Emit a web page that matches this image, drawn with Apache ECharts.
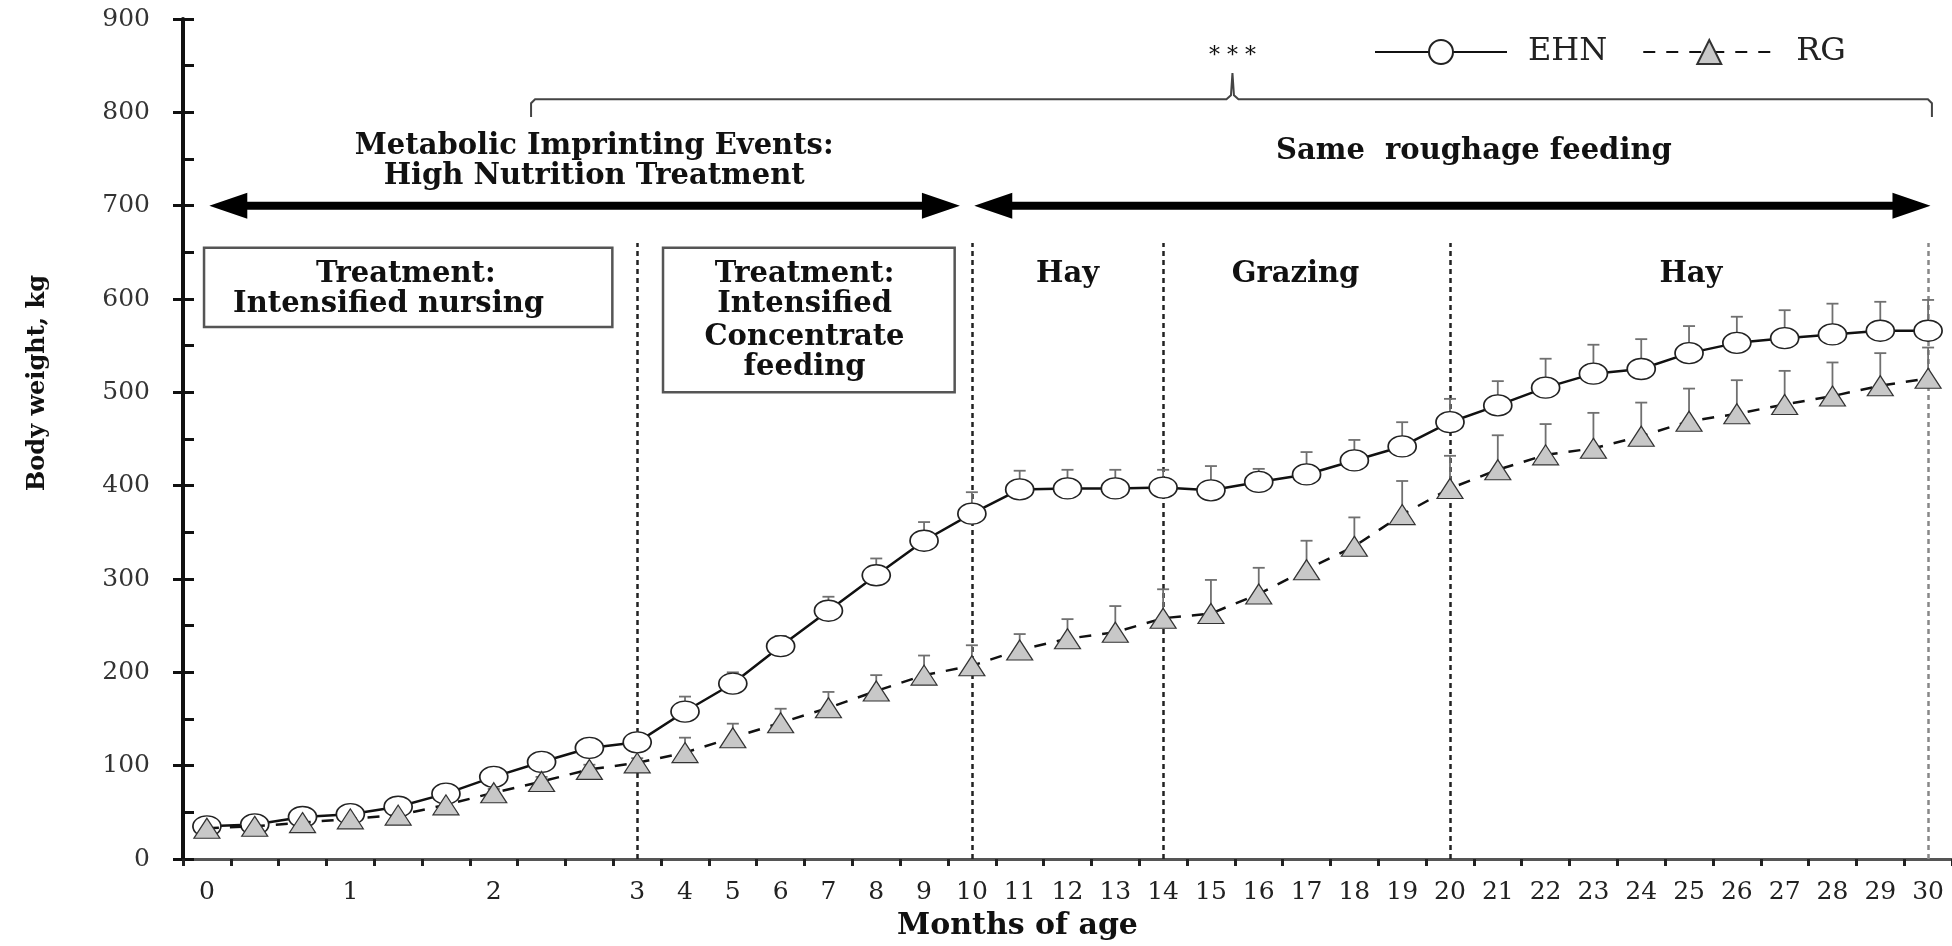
<!DOCTYPE html>
<html>
<head>
<meta charset="utf-8">
<title>Body weight by months of age</title>
<script src="https://cdn.jsdelivr.net/npm/echarts@6/dist/echarts.min.js"></script>
<style>
  html, body { margin: 0; padding: 0; background: #fff; }
  #chart { width: 1952px; height: 946px; }
</style>
</head>
<body>
<div id="chart"></div>
<script>
// age at weighing, months (10-day steps up to month 3, then monthly)
const ages = ['0', '0.33', '0.67', '1', '1.33', '1.67', '2', '2.33', '2.67', '3',
  '4', '5', '6', '7', '8', '9', '10', '11', '12', '13', '14', '15', '16', '17',
  '18', '19', '20', '21', '22', '23', '24', '25', '26', '27', '28', '29', '30'];

// body weight, kg (mean) and SD for each group
const ehnMean = [35, 37, 45, 48, 56, 70, 88, 104, 119, 125,
  158, 188, 228, 266, 304, 341, 370, 396, 397, 397, 398, 395, 404, 412,
  427, 442, 468, 486, 505, 520, 525, 542, 553, 558, 562, 566, 566];
const ehnSd = [2, 2, 3, 3, 3, 4, 4, 5, 5, 5,
  16, 12, 11, 15, 18, 20, 23, 20, 20, 20, 19, 26, 14, 24,
  22, 26, 25, 26, 31, 31, 32, 29, 28, 30, 33, 31, 33];
const rgMean = [33, 35, 39, 43, 47, 58, 71, 83, 96, 103,
  114, 130, 146, 162, 180, 197, 207, 224, 236, 243, 258, 263, 284, 310,
  335, 369, 397, 417, 433, 440, 453, 469, 477, 487, 496, 507, 515];
const rgSd = [2, 2, 2, 3, 3, 4, 4, 5, 5, 5,
  16, 15, 15, 17, 17, 21, 22, 17, 21, 28, 31, 36, 28, 31,
  31, 36, 35, 37, 33, 38, 36, 35, 36, 36, 36, 35, 33];

// months where the feeding period changes (dashed lines)
const phaseBreaks = ['3', '10', '14', '20', '30'];

const serif = '"DejaVu Serif", "Liberation Serif", serif';
const ellipse = 'path://M0,15 A20,15 0 1,1 40,15 A20,15 0 1,1 0,15 Z';

const chart = echarts.init(document.getElementById('chart'));

function barData(mean, sd) {
  return mean.map(function (m, i) { return [i, m, m + sd[i]]; });
}

function renderBar(params, api) {
  const base = api.coord([api.value(0), api.value(1)]);
  const top = api.coord([api.value(0), api.value(2)]);
  const style = { stroke: '#707070', lineWidth: 1.8 };
  return {
    type: 'group',
    children: [
      { type: 'line', shape: { x1: base[0], y1: base[1], x2: top[0], y2: top[1] }, style: style },
      { type: 'line', shape: { x1: top[0] - 6, y1: top[1], x2: top[0] + 6, y2: top[1] }, style: style }
    ]
  };
}

chart.setOption({
  animation: false,
  backgroundColor: '#fff',
  textStyle: { fontFamily: serif },
  grid: { left: 183, right: 0, top: 19, bottom: 84 },
  legend: {
    data: ['EHN', 'RG'],
    left: 1369, top: 31,
    itemWidth: 132, itemHeight: 30, itemGap: 35,
    textStyle: { fontFamily: serif, fontSize: 32, color: '#222', padding: [0, 0, 0, 16] }
  },
  xAxis: {
    type: 'category',
    data: ages,
    boundaryGap: true,
    axisLine: { lineStyle: { color: '#555', width: 3 } },
    axisTick: { show: true, interval: 0, length: 7, lineStyle: { color: '#222', width: 3 } },
    axisLabel: {
      interval: 0, margin: 21, fontFamily: serif, fontSize: 25, color: '#222',
      formatter: function (v) { return v.indexOf('.') < 0 ? v : ''; }
    },
    splitLine: { show: false },
    name: 'Months of age', nameLocation: 'middle', nameGap: 52,
    nameTextStyle: { fontFamily: serif, fontWeight: 'bold', fontSize: 30, color: '#111', padding: [0, 100, 0, 0] }
  },
  yAxis: [{
    type: 'value', min: 0, max: 900, interval: 100,
    axisLine: { show: true, lineStyle: { color: '#111', width: 4 } },
    axisTick: { show: true, length: 10, lineStyle: { color: '#111', width: 3 } },
    axisLabel: { margin: 33, fontFamily: serif, fontSize: 25, color: '#333' },
    splitLine: { show: false },
    name: 'Body weight, kg', nameLocation: 'middle', nameRotate: 90, nameGap: 133,
    nameTextStyle: { fontFamily: serif, fontWeight: 'bold', fontSize: 24, color: '#111', padding: [0, 0, 0, 112] }
  }, {
    type: 'value', min: 0, max: 900, interval: 50, position: 'left',
    axisLine: { show: false },
    axisTick: { show: true, inside: true, length: 11, lineStyle: { color: '#111', width: 3 } },
    axisLabel: { show: false },
    splitLine: { show: false }
  }],
  series: [{
    name: 'EHN sd', type: 'custom', z: 2, silent: true,
    renderItem: renderBar, data: barData(ehnMean, ehnSd)
  }, {
    name: 'RG sd', type: 'custom', z: 2, silent: true,
    renderItem: renderBar, data: barData(rgMean, rgSd)
  }, {
    name: 'EHN', type: 'line', z: 3, data: ehnMean,
    symbol: ellipse, symbolSize: [28, 21],
    lineStyle: { color: '#111', width: 2.5 },
    itemStyle: { color: '#fff', borderColor: '#222', borderWidth: 1.5 },
    markLine: {
      silent: true, z: 1, symbol: ['none', 'none'], label: { show: false },
      lineStyle: { color: '#222', width: 2.5, type: [5, 4] },
      data: phaseBreaks.map(function (m, k) {
        const start = { coord: [m, 0] };
        if (k === phaseBreaks.length - 1) start.lineStyle = { color: '#888', width: 2.5, type: [5, 4] };
        return [start, { coord: [m, 660] }];
      })
    }
  }, {
    name: 'RG', type: 'line', z: 4, data: rgMean,
    symbol: 'triangle', symbolSize: [26, 20],
    lineStyle: { color: '#111', width: 2.5, type: [12, 11] },
    itemStyle: { color: '#c8c8c8', borderColor: '#333', borderWidth: 1.2 }
  }]
});

// annotations placed in data units (category index, kg)
const xA = chart.convertToPixel({ xAxisIndex: 0 }, 0);
const xB = chart.convertToPixel({ xAxisIndex: 0 }, 1);
const xOf = function (i) { return xA + i * (xB - xA); };
const yOf = function (v) { return chart.convertToPixel({ yAxisIndex: 0 }, v); };

const bold = 'bold 29px ' + serif;
function label(text, i, v, font) {
  return {
    type: 'text', silent: true, z: 10,
    style: { text: text, x: xOf(i), y: yOf(v), font: font || bold, fill: '#111', align: 'center', verticalAlign: 'middle' }
  };
}
function box(i1, i2, v1, v2) {
  return {
    type: 'rect', silent: true, z: 9,
    shape: { x: xOf(i1), y: yOf(v1), width: xOf(i2) - xOf(i1), height: yOf(v2) - yOf(v1) },
    style: { fill: 'rgba(0,0,0,0)', stroke: '#555', lineWidth: 2.5 }
  };
}
function arrow(i1, i2, v) {
  const x1 = xOf(i1), x2 = xOf(i2), y = yOf(v);
  const L = 38, H = 13, t = 4;
  return {
    type: 'polygon', silent: true, z: 9,
    shape: { points: [[x1, y], [x1 + L, y - H], [x1 + L, y - t], [x2 - L, y - t], [x2 - L, y - H], [x2, y],
      [x2 - L, y + H], [x2 - L, y + t], [x1 + L, y + t], [x1 + L, y + H]] },
    style: { fill: '#000' }
  };
}
function brace(i1, i2, ic, vLine, vEnd, vPeak) {
  const x1 = xOf(i1), x2 = xOf(i2), xc = xOf(ic);
  const y = yOf(vLine), ye = yOf(vEnd), yp = yOf(vPeak);
  return {
    type: 'polyline', silent: true, z: 9,
    shape: { points: [[x1, ye], [x1, y + 4], [x1 + 4, y], [xc - 6, y], [xc - 1.5, y - 4], [xc, yp],
      [xc + 1.5, y - 4], [xc + 6, y], [x2 - 4, y], [x2, y + 4], [x2, ye]] },
    style: { fill: null, stroke: '#444', lineWidth: 2 }
  };
}

chart.setOption({
  graphic: [
    brace(6.78, 36.08, 21.45, 814, 795, 842),
    label('* * *', 21.45, 860, '22px ' + serif),
    label('Metabolic Imprinting Events:', 8.1, 763),
    label('High Nutrition Treatment', 8.1, 731),
    label('Same  roughage feeding', 26.5, 758),
    arrow(0.05, 15.75, 700),
    arrow(16.05, 36.05, 700),
    box(-0.06, 8.48, 655, 570),
    label('Treatment:', 4.16, 626),
    label('Intensified nursing', 3.8, 594),
    box(9.54, 15.64, 655, 500),
    label('Treatment:', 12.5, 626),
    label('Intensified', 12.5, 594),
    label('Concentrate', 12.5, 559),
    label('feeding', 12.5, 527),
    label('Hay', 18.0, 626),
    label('Grazing', 22.77, 626),
    label('Hay', 31.04, 626)
  ]
});
</script>
</body>
</html>
